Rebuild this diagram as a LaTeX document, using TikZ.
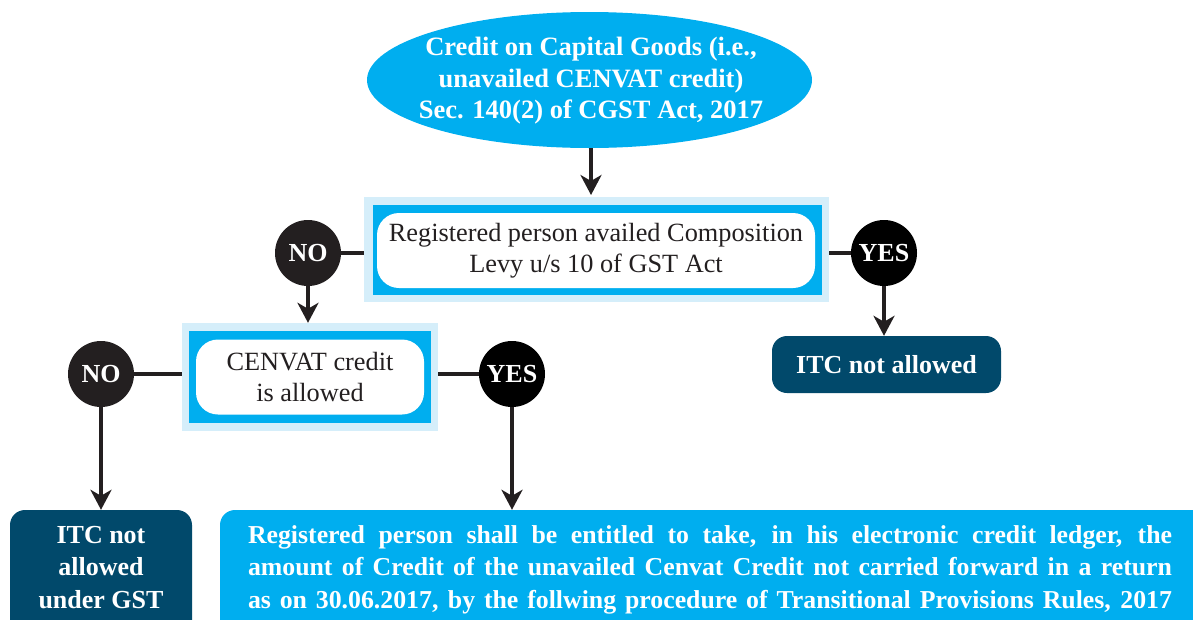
\documentclass[tikz,border=0pt]{standalone}
\usepackage{fontspec}
\usepackage{graphicx}
\setmainfont{Liberation Serif}
\usetikzlibrary{shapes.geometric,arrows.meta}
\definecolor{cyanb}{HTML}{00AEEF}
\definecolor{lightb}{HTML}{D5EEFA}
\definecolor{tealb}{HTML}{01496B}
\definecolor{inkb}{HTML}{231F20}
\tikzset{
  bigfont/.style={font=\fontsize{26.3}{31.5}\selectfont},
  outerbox/.style={fill=lightb, draw=none, inner sep=0pt, rectangle},
  bluebox/.style={fill=cyanb, draw=none, inner sep=0pt, rectangle},
  whitebox/.style={fill=white, draw=none, inner sep=0pt, rectangle, rounded corners=22pt, text=inkb, align=center, bigfont},
  decision/.style={circle, inner sep=0pt, minimum size=66pt, text=white, font=\fontsize{26}{30}\selectfont\bfseries},
  tealbox/.style={fill=tealb, draw=none, rectangle, rounded corners=15pt, inner sep=0pt, text=white, font=\fontsize{26}{31}\selectfont\bfseries},
  conn/.style={draw=inkb, line width=4.5pt},
  arr/.style={conn, -{Stealth[length=20pt, width=21pt, inset=6pt]}},
}
\begin{document}
\begin{tikzpicture}[x=1pt, y=-1pt]
\useasboundingbox (0,0) rectangle (1193,619);
\clip (0,0) rectangle (1193,619);
% top ellipse
\node[ellipse, fill=cyanb, inner sep=0pt, minimum width=445pt, minimum height=136pt] (top) at (589.5,80) {};
\node[text=white, align=center, font=\fontsize{26.5}{31.5}\selectfont\bfseries] (topt) at (591,81)
  {Credit on Capital Goods (i.e.,\\unavailed CENVAT credit)\\Sec. 140(2) of CGST Act, 2017};
% box 1
\node[outerbox, minimum width=465pt, minimum height=105pt] (b1o) at (596.5,249.5) {};
\node[bluebox, minimum width=449pt, minimum height=90pt] (b1b) at (597.5,250) {};
\node[whitebox, minimum width=438pt, minimum height=75pt] (b1) at (596,250.5)
  {Registered person availed Composition\\Levy u/s 10 of GST Act};
% decisions level 1
\node[decision, fill=inkb] (no1) at (308,253) {NO};
\node[decision, fill=black] (yes1) at (884,253) {YES};
% ITC not allowed
\node[tealbox, minimum width=229pt, minimum height=57pt] (itc1) at (886.5,364.5) {ITC not allowed};
% box 2
\node[outerbox, minimum width=256pt, minimum height=108pt] (b2o) at (310,377) {};
\node[bluebox, minimum width=242pt, minimum height=92pt] (b2b) at (310,377) {};
\node[whitebox, minimum width=228pt, minimum height=75pt] (b2) at (310,377)
  {CENVAT credit\\is allowed};
% decisions level 2
\node[decision, fill=inkb] (no2) at (101,374) {NO};
\node[decision, fill=black] (yes2) at (512,374) {YES};
% bottom boxes
\node[tealbox, minimum width=182pt, minimum height=140pt] (itc2) at (101,580) {};
\node[text=white, align=center, inner sep=0pt, font=\fontsize{26}{32.5}\selectfont\bfseries] (itc2t) at (101,569)
  {\begin{tabular}{@{}c@{}}ITC not\\allowed\\under GST\end{tabular}};
\node[fill=cyanb, draw=none, rectangle, rounded corners=15pt, inner sep=0pt, minimum width=1000pt, minimum height=140pt] (big) at (720,580) {};
\node[text=white, inner sep=0pt, font=\fontsize{25.8}{32.5}\selectfont\bfseries] (bigt) at (710,569)
  {\begin{tabular}{@{}l@{}}%
  \makebox[924pt][s]{Registered person shall be entitled to take, in his electronic credit ledger, the}\\
  \makebox[924pt][s]{amount of Credit of the unavailed Cenvat Credit not carried forward in a return}\\
  \makebox[924pt][s]{as on 30.06.2017, by the follwing procedure of Transitional Provisions Rules, 2017}%
  \end{tabular}};
% connectors
\draw[arr] (top.south -| 591,0) -- (591,195);
\draw[conn] (no1.east) -- (no1.east -| b1o.west);
\draw[conn] (yes1.west -| b1o.east) -- (yes1.west);
\draw[arr] (yes1.south) -- (yes1.south |- itc1.north);
\draw[arr] (no1.south) -- (no1.south |- b2o.north);
\draw[conn] (no2.east) -- (no2.east -| b2o.west);
\draw[conn] (yes2.west -| b2o.east) -- (yes2.west);
\draw[arr] (no2.south) -- (no2.south |- itc2.north);
\draw[arr] (yes2.south) -- (yes2.south |- big.north);
\end{tikzpicture}
\end{document}
